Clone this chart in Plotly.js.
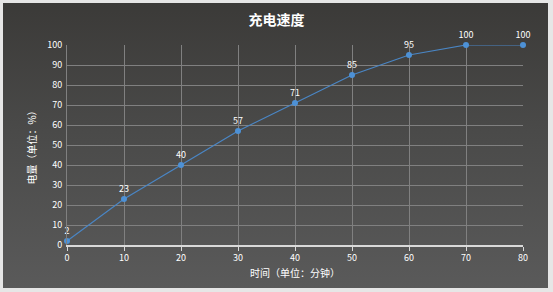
<!DOCTYPE html>
<html><head><meta charset="utf-8">
<script src="https://cdn.plot.ly/plotly-3.0.1.min.js"></script>
<style>
html,body{margin:0;padding:0;background:#e6e6e6;}
#bg{position:absolute;left:3px;top:3px;width:545px;height:285px;background:linear-gradient(to bottom,#3b3a38 0%,#4a4a49 45%,#5a5a5a 100%);}
#chart{position:absolute;left:0;top:0;width:553px;height:292px;}
</style></head>
<body>
<div id="bg"></div>
<div id="chart"></div>
<script>
const minutes = [0, 10, 20, 30, 40, 50, 60, 70, 80];
const charge = [2, 23, 40, 57, 71, 85, 95, 100, 100];
const labels = charge.map(String);
const titleText = '充电速度';
const xTitle = '时间（单位：分钟）';
const yTitle = '电量（单位：%）';

const font = '"Noto Sans CJK SC", "Microsoft YaHei", sans-serif';
Plotly.newPlot('chart', [{
  x: minutes, y: charge, type: 'scatter', mode: 'lines+markers+text',
  text: labels, textposition: 'top center',
  textfont: {family: font, size: 9, color: '#ffffff'},
  line: {color: '#4a86c5', width: 1.2},
  marker: {color: '#4d91d6', size: 6, symbol: 'circle'},
  cliponaxis: false, hoverinfo: 'none'
}], {
  width: 553, height: 292,
  margin: {l: 67, r: 30, t: 45, b: 47},
  paper_bgcolor: 'rgba(0,0,0,0)', plot_bgcolor: 'rgba(0,0,0,0)',
  showlegend: false,
  font: {family: font, color: '#ffffff'},
  title: {text: '<b>' + titleText + '</b>', x: 0.5, xanchor: 'center', y: 0.93, yanchor: 'middle',
    font: {family: font, size: 14, color: '#ffffff'}},
  xaxis: {range: [0, 80], dtick: 10, tick0: 0, showgrid: true, gridcolor: '#808080', gridwidth: 1,
    showline: true, linecolor: '#d9d9d9', linewidth: 1.5, ticks: 'outside', ticklen: 4, tickcolor: '#d9d9d9',
    zeroline: false, tickfont: {family: font, size: 9, color: '#ffffff'},
    title: {text: xTitle, font: {family: font, size: 10, color: '#ffffff'}, standoff: 6}},
  yaxis: {range: [0, 100], dtick: 10, tick0: 0, showgrid: true, gridcolor: '#808080', gridwidth: 1,
    showline: true, linecolor: '#808080', zeroline: false, ticks: '', ticklen: 0, ticklabelstandoff: 2,
    tickfont: {family: font, size: 9, color: '#ffffff'},
    title: {text: yTitle, font: {family: font, size: 10, color: '#ffffff'}, standoff: 8}}
}, {staticPlot: true, displayModeBar: false});
</script>
</body></html>
